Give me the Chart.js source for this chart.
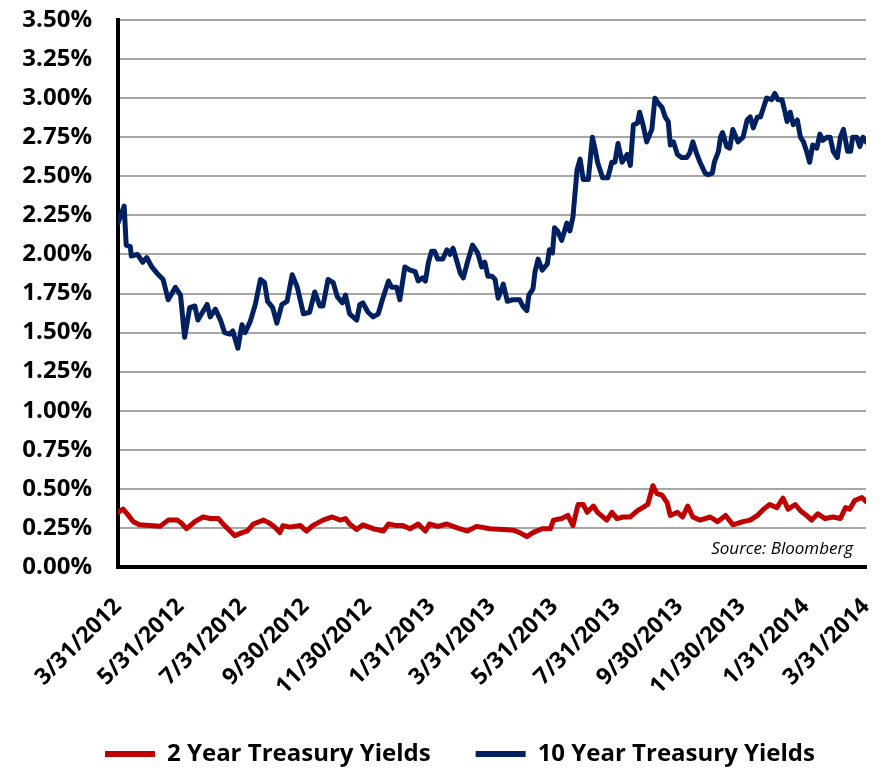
<!DOCTYPE html>
<html><head><meta charset="utf-8">
<script src="https://cdn.jsdelivr.net/npm/chart.js@4/dist/chart.umd.min.js"></script>
<style>html,body{margin:0;padding:0;background:#fff;} canvas{display:block;}</style>
</head><body>
<canvas id="c" width="883" height="769"></canvas>
<script>
const tickLabels = ['3/31/2012','5/31/2012','7/31/2012','9/30/2012','11/30/2012','1/31/2013','3/31/2013','5/31/2013','7/31/2013','9/30/2013','11/30/2013','1/31/2014','3/31/2014'];
const seriesNames = ['2 Year Treasury Yields','10 Year Treasury Yields'];
const sourceNote = 'Source: Bloomberg';

// days since 3/31/2012
const day10 = [0,6,8,12,13,19,24,28,33,38,44,49,56,61,65,70,75,78,87,90,95,100,104,109,112,117,121,124,129,134,139,143,146,151,155,160,165,170,175,181,187,192,197,200,205,210,214,219,222,226,233,236,239,244,249,254,258,264,267,272,275,280,285,290,293,297,300,303,306,309,312,317,321,324,327,331,334,337,341,346,348,351,355,358,361,365,368,371,376,380,385,389,392,395,399,401,405,407,410,414,419,421,424,426,429,433,438,441,444,448,451,454,459,463,466,468,473,478,482,485,488,492,497,500,503,507,509,512,516,521,524,527,531,534,537,539,542,546,550,555,558,561,565,568,573,576,580,582,586,588,590,594,597,600,605,610,614,617,620,624,627,630,633,638,641,644,648,651,653,656,659,663,666,669,672,675,678,682,685,688,692,695,698,702,705,708,712,715,717,721,724,727,730];
const yield10 = [2.20,2.31,2.06,2.05,1.99,2.00,1.95,1.98,1.92,1.88,1.84,1.71,1.79,1.74,1.47,1.66,1.67,1.58,1.68,1.60,1.65,1.58,1.50,1.49,1.51,1.40,1.55,1.50,1.57,1.68,1.84,1.82,1.70,1.66,1.56,1.68,1.70,1.87,1.79,1.62,1.63,1.76,1.67,1.67,1.84,1.82,1.73,1.69,1.74,1.62,1.58,1.68,1.69,1.63,1.60,1.62,1.71,1.83,1.79,1.79,1.71,1.92,1.90,1.89,1.83,1.85,1.83,1.95,2.02,2.02,1.97,1.97,2.03,2.00,2.04,1.95,1.88,1.85,1.95,2.06,2.04,2.01,1.92,1.95,1.86,1.86,1.84,1.72,1.81,1.70,1.71,1.71,1.71,1.67,1.64,1.74,1.78,1.89,1.97,1.90,1.94,2.03,2.01,2.17,2.15,2.09,2.20,2.15,2.24,2.54,2.61,2.48,2.48,2.75,2.66,2.59,2.49,2.49,2.59,2.59,2.71,2.59,2.64,2.57,2.83,2.84,2.91,2.84,2.72,2.80,3.00,2.97,2.94,2.88,2.85,2.70,2.72,2.64,2.62,2.62,2.65,2.72,2.64,2.59,2.52,2.51,2.52,2.59,2.66,2.75,2.78,2.69,2.68,2.80,2.72,2.75,2.86,2.88,2.81,2.88,2.88,2.94,3.00,2.99,3.03,2.99,2.99,2.91,2.85,2.91,2.83,2.86,2.75,2.72,2.66,2.59,2.70,2.68,2.77,2.73,2.75,2.75,2.66,2.62,2.75,2.80,2.66,2.66,2.75,2.75,2.69,2.75,2.72];

const day2 = [0,5,9,15,21,31,41,49,58,62,67,75,83,90,98,104,114,121,126,132,142,148,153,158,161,168,178,184,190,200,209,217,222,226,233,239,249,259,264,272,278,285,293,300,304,312,321,331,341,350,363,376,386,392,399,405,414,422,425,433,439,444,449,454,458,464,468,477,482,487,493,500,507,512,517,522,526,531,536,539,546,551,556,561,568,578,585,593,600,610,617,624,630,636,643,649,654,661,666,672,677,683,690,698,705,710,714,719,726,730];
const yield2 = [0.35,0.37,0.34,0.29,0.27,0.265,0.26,0.30,0.30,0.28,0.245,0.29,0.32,0.31,0.31,0.265,0.20,0.22,0.23,0.275,0.30,0.28,0.255,0.22,0.265,0.255,0.265,0.23,0.265,0.30,0.32,0.30,0.31,0.275,0.24,0.27,0.245,0.23,0.275,0.265,0.265,0.245,0.275,0.23,0.275,0.26,0.275,0.25,0.23,0.26,0.245,0.24,0.235,0.22,0.195,0.22,0.245,0.245,0.30,0.31,0.33,0.265,0.40,0.40,0.35,0.39,0.35,0.30,0.35,0.31,0.32,0.32,0.36,0.38,0.40,0.52,0.47,0.46,0.41,0.33,0.35,0.32,0.39,0.32,0.30,0.32,0.29,0.33,0.27,0.29,0.30,0.33,0.37,0.40,0.38,0.44,0.37,0.40,0.36,0.33,0.30,0.34,0.31,0.32,0.31,0.38,0.37,0.425,0.445,0.42];

function dayOffset(s){ const p = s.split('/').map(Number); return Math.round((Date.UTC(p[2],p[0]-1,p[1]) - Date.UTC(2012,2,31))/86400000); }
const tickDays = tickLabels.map(dayOffset);
const labelByDay = {}; tickDays.forEach((d,i)=>{ labelByDay[d] = tickLabels[i]; });
const pts = (xs, ys) => xs.map((x,i)=>({x:x, y:ys[i]}));

const FONT = '"Open Sans"';
const sourcePlugin = {
  id:'sourceNote',
  afterLayout(chart){
    if (chart.legend) { chart.legend.left += 27; chart.legend.right += 27; }
  },
  afterDatasetsDraw(chart){
    const ctx = chart.ctx, a = chart.chartArea;
    ctx.save();
    ctx.font = 'italic 17px ' + FONT;
    ctx.fillStyle = '#000';
    ctx.textAlign = 'right';
    ctx.textBaseline = 'alphabetic';
    ctx.fillText(sourceNote, a.right - 13, a.bottom - 13);
    ctx.restore();
  }
};

function build(){
  new Chart(document.getElementById('c'), {
    type:'line',
    data:{ datasets:[
      {label:seriesNames[0], data:pts(day2,yield2), borderColor:'#C00000', backgroundColor:'#C00000', borderWidth:5, pointRadius:0, tension:0, borderJoinStyle:'round', borderCapStyle:'round'},
      {label:seriesNames[1], data:pts(day10,yield10), borderColor:'#002060', backgroundColor:'#002060', borderWidth:5, pointRadius:0, tension:0, borderJoinStyle:'round', borderCapStyle:'round'}
    ]},
    options:{
      responsive:false, animation:false, devicePixelRatio:1,
      layout:{ padding:{ left:0, right:17, top:20, bottom:-7 } },
      plugins:{
        legend:{ position:'bottom', labels:{ boxWidth:50, boxHeight:6, padding:45, color:'#000',
          font:{ family:FONT, size:24, weight:'bold' },
          generateLabels(chart){ return Chart.defaults.plugins.legend.labels.generateLabels(chart).map(l=>Object.assign(l,{lineWidth:0})); } } },
        tooltip:{ enabled:false }
      },
      scales:{
        x:{ type:'linear', min:0, max:730,
          grid:{ display:false },
          border:{ display:true, color:'#000', width:4 },
          ticks:{ autoSkip:false, maxRotation:45, minRotation:45, padding:18, color:'#000',
            font:{ family:FONT, size:23, weight:'bold' },
            callback:(v)=> (labelByDay[v] !== undefined ? labelByDay[v] : '') },
          afterBuildTicks:(s)=>{ s.ticks = tickDays.map(v=>({value:v})); },
          afterFit:(s)=>{ s.height = 130; s.paddingLeft = 0; s.paddingRight = 0; }
        },
        y:{ min:0, max:3.5,
          grid:{ color:'#A6A6A6', lineWidth:2, drawTicks:false },
          border:{ color:'#000', width:4 },
          ticks:{ stepSize:0.25, padding:26, color:'#000', font:{ family:FONT, size:24, weight:'bold' },
            callback:(v)=> v.toFixed(2) + '%' },
          afterFit:(s)=>{ s.width = 118; s.paddingTop = 0; s.paddingBottom = 0; }
        }
      }
    },
    plugins:[sourcePlugin]
  });
}
const fl = document.fonts ? Promise.all([
  document.fonts.load('bold 24px "Open Sans"'),
  document.fonts.load('bold 23px "Open Sans"'),
  document.fonts.load('italic 17px "Open Sans"')
]) : Promise.resolve();
fl.then(build, build);
</script>
</body></html>
